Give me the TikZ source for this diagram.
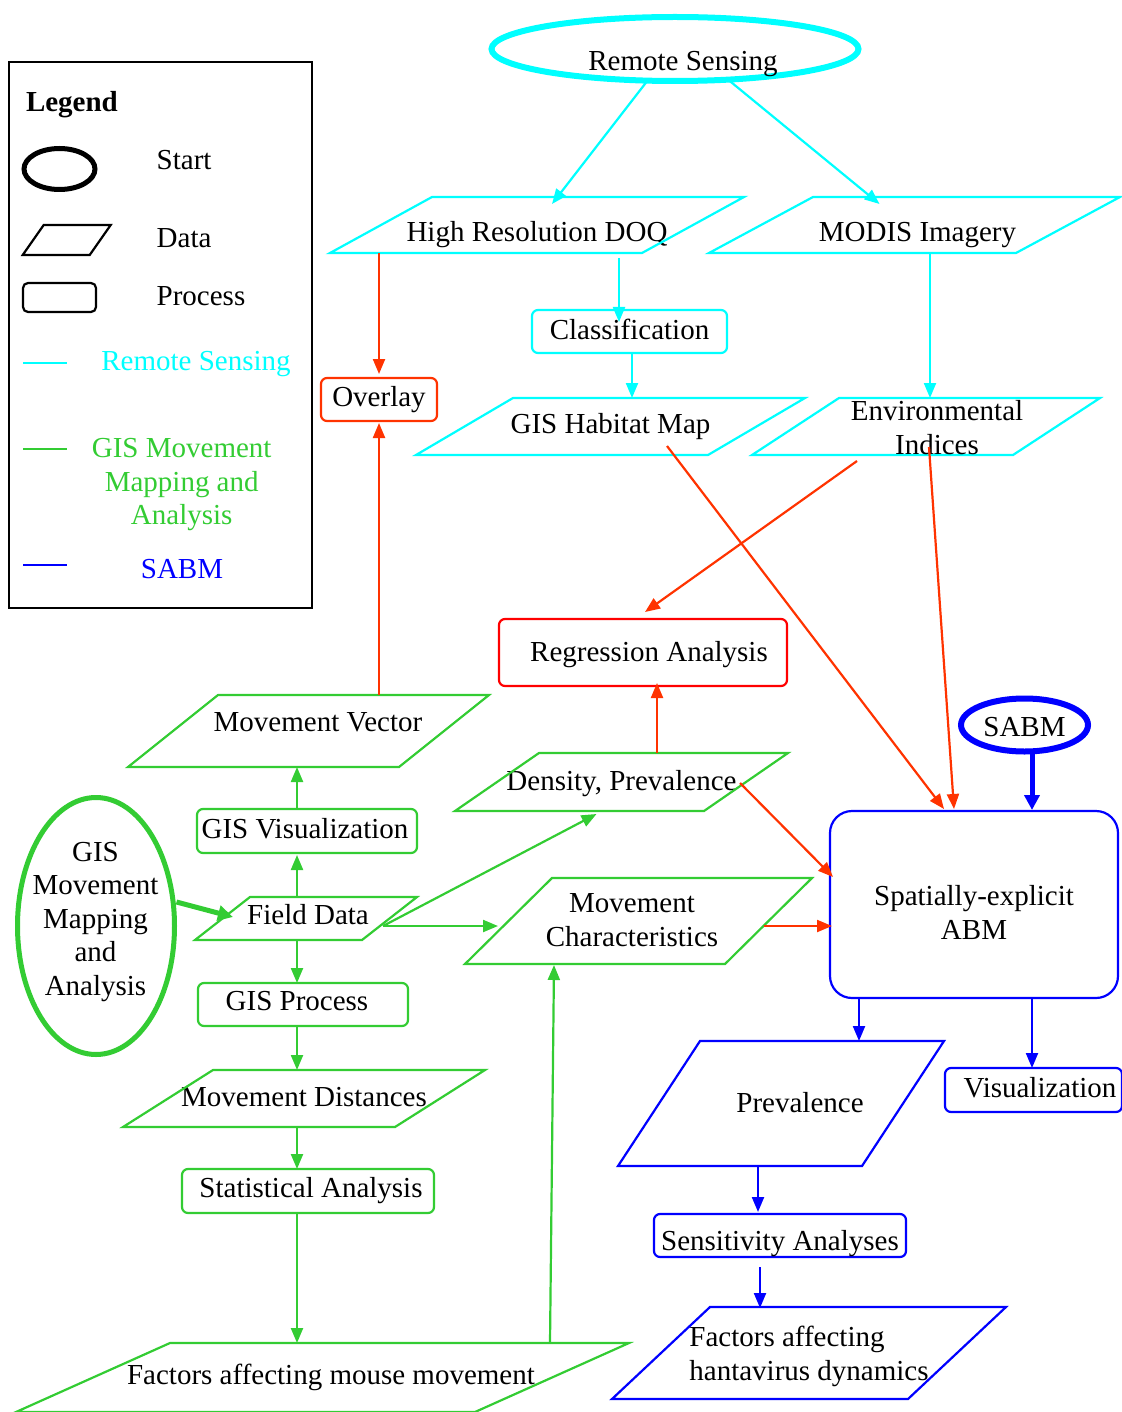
\documentclass[tikz,border=0pt]{standalone}
\usepackage{fontspec}
\setmainfont{Liberation Serif}
\usetikzlibrary{arrows.meta,calc,shapes.geometric}
\definecolor{rscol}{RGB}{0,255,255}
\definecolor{gmcol}{RGB}{51,204,51}
\definecolor{sbcol}{RGB}{0,0,255}
\definecolor{orcol}{RGB}{255,51,0}
\definecolor{rdcol}{RGB}{255,0,0}
\newcommand{\ml}[1]{\begin{tabular}{@{}c@{}}#1\end{tabular}}
\newcommand{\mll}[1]{\begin{tabular}{@{}l@{}}#1\end{tabular}}
\newcommand{\shifttext}[2]{\raisebox{#1}[\height][\depth]{#2}}
\newcommand{\drawpara}[3]{\draw[#3] ($(#1.north west)+(#2,0)$) -- (#1.north east) -- ($(#1.south east)-(#2,0)$) -- (#1.south west) -- cycle;}
\tikzset{
  txt/.style={font=\fontsize{29}{33.5}\selectfont, inner sep=0pt, outer sep=0pt},
  procbox/.style={txt, rectangle, draw=#1, line width=2.2pt, rounded corners=6pt},
  pbox/.style={txt, rectangle},
  startnode/.style={txt, ellipse, draw=#1, line width=6pt},
  conn/.style={draw=#1, line width=2.2pt, -{Triangle[length=15pt,width=12pt]}},
  thickconn/.style={draw=#1, line width=5pt, -{Triangle[length=15pt,width=15pt]}},
  shapeline/.style={draw=#1, line width=2.2pt, line join=miter},
}
\begin{document}
\begin{tikzpicture}[x=1pt,y=-1pt]
\useasboundingbox (0,0) rectangle (1121,1412);
% ---------------- legend ----------------
\node[txt, draw=black, line width=2pt, minimum width=303pt, minimum height=546pt] (legbox) at (160.5,335) {};
\node[txt, anchor=west, font=\fontsize{29}{33.5}\selectfont\bfseries] (legtitle) at (26,105) {Legend};
\node[txt, ellipse, draw=black, line width=5pt, minimum width=71pt, minimum height=41pt] (legstart) at (59.5,169) {};
\node[pbox, minimum width=88pt, minimum height=30pt] (legdata) at (66.7,240) {};
\drawpara{legdata}{21}{shapeline=black}
\node[procbox=black, rounded corners=5pt, minimum width=73pt, minimum height=29pt] (legproc) at (59.5,297.5) {};
\node[txt, anchor=west] (legstarttxt) at (156.7,160) {Start};
\node[txt, anchor=west] (legdatatxt) at (156.7,238) {Data};
\node[txt, anchor=west] (legproctxt) at (156.7,296) {Process};
\draw[rscol, line width=2pt] (23,363) -- (67,363);
\draw[gmcol, line width=2pt] (23,449) -- (67,449);
\draw[sbcol, line width=2pt] (23,565) -- (67,565);
\node[txt, text=rscol] (legrs) at (196,364) {Remote Sensing};
\node[txt, text=gmcol] (leggm) at (181.7,484.6) {\ml{GIS Movement\\Mapping and\\Analysis}};
\node[txt, text=sbcol] (legsb) at (182,569) {SABM};
% ---------------- remote sensing ----------------
\node[startnode=rscol, minimum width=367pt, minimum height=64pt] (rs) at (675,49) {\shifttext{-15pt}{\hspace*{16pt}Remote Sensing}};
\node[pbox, minimum width=414pt, minimum height=56pt] (doq) at (537,225) {\shifttext{-10pt}{High Resolution DOQ}};
\drawpara{doq}{102}{shapeline=rscol}
\node[pbox, minimum width=411pt, minimum height=56pt] (modis) at (914.5,225) {\shifttext{-10pt}{\hspace*{6pt}MODIS Imagery}};
\drawpara{modis}{104}{shapeline=rscol}
\node[procbox=rscol, minimum width=195pt, minimum height=43pt] (classif) at (629.5,331.5) {\shifttext{2pt}{Classification}};
\node[pbox, minimum width=389pt, minimum height=57pt] (habitat) at (610.5,426.5) {\shifttext{0pt}{GIS Habitat Map}};
\drawpara{habitat}{97}{shapeline=rscol}
\node[pbox, minimum width=348pt, minimum height=57pt] (env) at (926,426.5) {};
\drawpara{env}{87}{shapeline=rscol}
\node[txt] (envtext) at (937,431) {\ml{Environmental\\Indices}};
\node[procbox=orcol, minimum width=116pt, minimum height=43pt] (overlay) at (379,399.5) {Overlay};
\node[procbox=rdcol, minimum width=288pt, minimum height=67pt] (regr) at (643,652.5) {\shifttext{-2pt}{\hspace*{12pt}Regression Analysis}};
% ---------------- GIS movement ----------------
\node[pbox, minimum width=361pt, minimum height=72pt] (mv) at (308.5,731) {\shifttext{9pt}{\hspace*{19pt}Movement Vector}};
\drawpara{mv}{90}{shapeline=gmcol}
\node[procbox=gmcol, minimum width=220pt, minimum height=44pt] (gisvis) at (307,831) {\shifttext{2pt}{\hspace*{-4pt}GIS Visualization}};
\node[pbox, minimum width=333pt, minimum height=58pt] (density) at (621.5,782) {\shifttext{-2pt}{Density, Prevalence}};
\drawpara{density}{84}{shapeline=gmcol}
\node[pbox, minimum width=222pt, minimum height=43pt] (field) at (306,918.5) {\shifttext{4pt}{\hspace*{4pt}Field Data}};
\drawpara{field}{55}{shapeline=gmcol}
\node[pbox, minimum width=347pt, minimum height=86pt] (mc) at (638.5,921) {\shifttext{-2pt}{\ml{Movement\\Characteristics}\hspace*{13pt}}};
\drawpara{mc}{87}{shapeline=gmcol}
\node[startnode=gmcol, line width=5pt, minimum width=157pt, minimum height=257pt] (gmm) at (96,926) {};
\node[txt] (gmmtext) at (95.5,921.3) {\ml{GIS\\Movement\\Mapping\\and\\Analysis}};
\node[procbox=gmcol, minimum width=210pt, minimum height=43pt] (gisproc) at (303,1004.5) {\shifttext{3pt}{GIS Process\hspace*{12pt}}};
\node[pbox, minimum width=362pt, minimum height=57pt] (md) at (304,1098.5) {\shifttext{1pt}{Movement Distances}};
\drawpara{md}{90}{shapeline=gmcol}
\node[procbox=gmcol, minimum width=252pt, minimum height=44pt] (stat) at (308,1191) {\shifttext{0pt}{\hspace*{6pt}Statistical Analysis}};
\node[pbox, minimum width=613pt, minimum height=69pt] (fmouse) at (322.5,1377.5) {\hspace*{17pt}Factors affecting mouse movement};
\drawpara{fmouse}{154}{shapeline=gmcol}
% ---------------- SABM ----------------
\node[startnode=sbcol, minimum width=127pt, minimum height=53pt] (sabm) at (1024.5,725) {\shifttext{-2pt}{SABM}};
\node[procbox=sbcol, rounded corners=22pt, minimum width=288pt, minimum height=187pt] (abm) at (974,904.5) {\shifttext{-11.5pt}{\ml{Spatially-explicit\\ABM}}};
\node[pbox, minimum width=326pt, minimum height=125pt] (prev) at (781,1103.5) {\shifttext{1pt}{\hspace*{38pt}Prevalence}};
\drawpara{prev}{82}{shapeline=sbcol}
\node[procbox=sbcol, minimum width=177pt, minimum height=44pt] (vis) at (1033.5,1090) {\shifttext{2pt}{\hspace*{13pt}Visualization}};
\node[procbox=sbcol, minimum width=252pt, minimum height=43pt] (sens) at (780,1235.5) {\shifttext{-8pt}{Sensitivity Analyses}};
\node[pbox, minimum width=394pt, minimum height=92pt] (fhanta) at (809,1353) {\shifttext{-4pt}{\mll{Factors affecting\\hantavirus dynamics}}};
\drawpara{fhanta}{98}{shapeline=sbcol}
% ---------------- connectors ----------------
\draw[conn=rscol] (rs.229) -- ($(doq.north)+(15,7)$);
\draw[conn=rscol] (rs.330) -- ($(modis.north)+(-35,7)$);
\draw[conn=rscol] ($(doq.south)+(82,5)$) -- ($(classif.north)+(-10.5,12)$);
\draw[conn=rscol] ($(classif.south)+(2.5,0)$) -- ($(habitat.north)+(21.5,0)$);
\draw[conn=rscol] ($(modis.south)+(15.5,0)$) -- ($(env.north)+(4,0)$);
\draw[conn=orcol] ($(doq.south)+(-158,0)$) -- ($(overlay.north)+(0,-4)$);
\draw[conn=orcol] ($(mv.north)+(70.5,0)$) -- ($(overlay.south)+(0,2)$);
\draw[conn=orcol] ($(habitat.south)+(56.5,-9)$) -- ($(abm.north)+(-30,-2)$);
\draw[conn=orcol] ($(env.south)+(-69,6)$) -- ($(regr.north)+(2,-7)$);
\draw[conn=orcol] ($(env.south)+(3,-8)$) -- ($(abm.north)+(-20,-2)$);
\draw[conn=orcol] ($(density.north)+(35.5,0)$) -- ($(regr.south)+(14,-3)$);
\draw[conn=orcol] ($(density.east)+(-48,1)$) -- ($(abm.west)+(3,-27.5)$);
\draw[conn=orcol] ($(mc.east)+(-48,5)$) -- ($(abm.west)+(2,21.5)$);
\draw[thickconn=sbcol] ($(sabm.south)+(7.5,0)$) -- ($(abm.north)+(58,-1)$);
\draw[conn=sbcol] ($(abm.south)+(-115,0)$) -- ($(prev.north)+(78,0)$);
\draw[conn=sbcol] ($(abm.south)+(58,0)$) -- ($(vis.north)+(-1.5,0)$);
\draw[conn=sbcol] ($(prev.south)+(-23,0)$) -- ($(sens.north)+(-22,-2)$);
\draw[conn=sbcol] ($(sens.south)+(-20,10)$) -- ($(fhanta.north)+(-49,1)$);
\draw[conn=gmcol] ($(gisvis.north)+(-10,0)$) -- ($(mv.south)+(-11.5,0)$);
\draw[conn=gmcol] ($(field.north)+(-9,0)$) -- ($(gisvis.south)+(-10,2)$);
\draw[conn=gmcol] ($(field.south)+(-9,0)$) -- ($(gisproc.north)+(-6,0)$);
\draw[conn=gmcol] ($(gisproc.south)+(-6,0)$) -- ($(md.north)+(-7,0)$);
\draw[conn=gmcol] ($(md.south)+(-7,0)$) -- ($(stat.north)+(-11,0)$);
\draw[conn=gmcol] ($(stat.south)+(-11,0)$) -- ($(fmouse.north)+(-25.5,0)$);
\draw[conn=gmcol] ($(fmouse.north)+(227.5,0)$) -- ($(mc.south)+(-84.5,1)$);
\draw[thickconn=gmcol] ($(gmm.east)+(2,-24)$) -- ($(field.west)+(38,-1.5)$);
\draw[conn=gmcol] ($(field.east)+(-34,7.5)$) -- ($(density.south)+(-25,3)$);
\draw[conn=gmcol] ($(field.east)+(-34,7.5)$) -- ($(mc.west)+(33,5)$);
\end{tikzpicture}
\end{document}
